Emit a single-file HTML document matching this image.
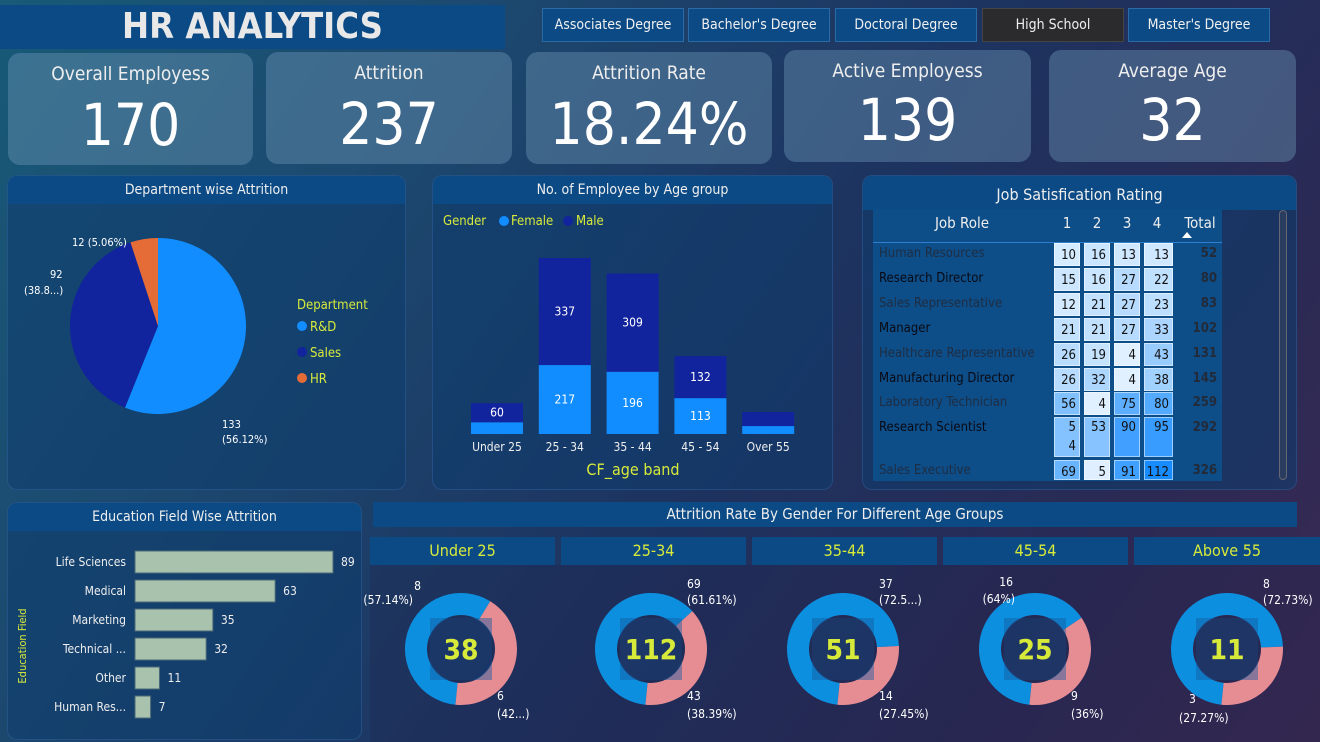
<!DOCTYPE html>
<html><head><meta charset="utf-8">
<style>
*{box-sizing:border-box;margin:0;padding:0}
body{width:1320px;height:742px;overflow:hidden;font-family:"DejaVu Sans Condensed","Liberation Sans",sans-serif;color:#fff;
background:linear-gradient(125deg,#185a78 0%,#1c4a70 25%,#1d3360 55%,#2a2a55 80%,#3b2a52 100%);position:relative}
.abs{position:absolute}
.title{left:0;top:5px;width:505px;height:44px;background:#0b4a85;font:bold 36px "DejaVu Sans Condensed","Liberation Sans",sans-serif;color:#e8e8e8;text-align:center;line-height:44px}
.slicer{top:8px;height:34px;width:142px;background:#0b4a85;border:1px solid #2a6aa5;font-size:14px;text-align:center;line-height:32px;color:#f0f0f0}
.kpi{height:112px;border-radius:12px;background:rgba(110,150,180,0.42);text-align:center}
.kpi .l{font-size:19px;margin-top:10px;color:#eee}
.kpi .v{font-size:58px;margin-top:10px;color:#fff;line-height:60px}
.panel{background:rgba(14,60,110,0.55);border-radius:10px;border:1px solid rgba(60,110,170,0.4);overflow:hidden}
.ph{height:28px;background:#0b4a85;text-align:center;font-size:14px;line-height:28px;color:#eee}
.dh{top:537px;height:28px;width:185px;background:#0b4a85;color:#d7ea3a;text-align:center;font-size:16px;line-height:28px}
svg text{font-family:"DejaVu Sans Condensed","Liberation Sans",sans-serif}
</style></head><body>
<div class="abs title">HR ANALYTICS</div>
<div class="abs slicer" style="left:542px">Associates Degree</div>
<div class="abs slicer" style="left:688px">Bachelor's Degree</div>
<div class="abs slicer" style="left:835px">Doctoral Degree</div>
<div class="abs slicer" style="left:982px;background:#2b2b2e;border-color:#444">High School</div>
<div class="abs slicer" style="left:1128px">Master's Degree</div>

<div class="abs kpi" style="left:8px;top:53px;width:245px"><div class="l">Overall Employess</div><div class="v">170</div></div>
<div class="abs kpi" style="left:266px;top:52px;width:246px"><div class="l">Attrition</div><div class="v">237</div></div>
<div class="abs kpi" style="left:526px;top:52px;width:246px"><div class="l">Attrition Rate</div><div class="v">18.24%</div></div>
<div class="abs kpi" style="left:784px;top:50px;width:247px"><div class="l">Active Employess</div><div class="v" style="margin-top:8px">139</div></div>
<div class="abs kpi" style="left:1049px;top:50px;width:247px"><div class="l">Average Age</div><div class="v" style="margin-top:8px">32</div></div>

<div class="abs panel" style="left:7px;top:175px;width:399px;height:315px"><div class="ph">Department wise Attrition</div></div>
<div class="abs panel" style="left:432px;top:175px;width:401px;height:315px"><div class="ph">No. of Employee by Age group</div></div>
<div class="abs panel" style="left:862px;top:175px;width:435px;height:315px"><div class="ph" style="font-size:16px;height:34px;line-height:38px">Job Satisfication Rating</div></div>
<div class="abs panel" style="left:7px;top:502px;width:355px;height:238px"><div class="ph">Education Field Wise Attrition</div></div>
<div class="abs" style="left:373px;top:502px;width:924px;height:25px;background:#0b4a85;text-align:center;font-size:15px;line-height:25px;color:#eee">Attrition Rate By Gender For Different Age Groups</div>
<div class="abs" style="left:370px;top:565px;width:950px;height:177px;background:rgba(30,30,70,0.25)"></div>
<div class="abs dh" style="left:370px">Under 25</div>
<div class="abs dh" style="left:561px">25-34</div>
<div class="abs dh" style="left:752px">35-44</div>
<div class="abs dh" style="left:943px">45-54</div>
<div class="abs dh" style="left:1134px;width:186px">Above 55</div>

<svg class="abs" style="left:0;top:0" width="1320" height="742" id="chart">
</svg>

<div class="abs" style="left:873px;top:209px;width:349px;height:272px;background:#0d4d88"></div>
<div class="abs" style="left:1279px;top:210px;width:8px;height:270px;border:1px solid #667;border-radius:4px;background:#2a3d5e"></div>
<div id="tbl"></div>

<script>
const NS="http://www.w3.org/2000/svg";
const svg=document.getElementById('chart');
function mk(tag,attrs,parent){const e=document.createElementNS(NS,tag);for(const k in attrs)e.setAttribute(k,attrs[k]);(parent||svg).appendChild(e);return e;}
function txt(x,y,s,o){const t=mk('text',Object.assign({x:x,y:y,fill:'#fff','font-size':12},o||{}));t.textContent=s;return t;}

// ---- Department pie ----
const deptNames=["R&D","Sales","HR"];
const deptValues=[133,92,12];
const deptColors=["#118dff","#12239e","#e66c37"];
(function(){
  const cx=158,cy=326,r=88;const tot=deptValues.reduce((a,b)=>a+b,0);let a=0;
  deptValues.forEach((v,i)=>{
    const a0=a,a1=a+v/tot*2*Math.PI;a=a1;
    const p=(t)=>[cx+r*Math.sin(t),cy-r*Math.cos(t)];
    const [x0,y0]=p(a0),[x1,y1]=p(a1);
    const s=mk('path',{d:`M${cx},${cy}L${x0},${y0}A${r},${r} 0 ${a1-a0>Math.PI?1:0} 1 ${x1},${y1}Z`,fill:deptColors[i]});
    
    
  });
  txt(222,428,"133",{'font-size':11});txt(222,443,"(56.12%)",{'font-size':11});
  txt(50,278,"92",{'font-size':11});txt(24,294,"(38.8...)",{'font-size':11});
  txt(72,246,"12 (5.06%)",{'font-size':11});
  txt(297,309,"Department",{fill:'#d7ea3a','font-size':13});
  deptNames.forEach((n,i)=>{mk('circle',{cx:302,cy:326+i*26,r:5,fill:deptColors[i]});
    const t=txt(310,331+i*26,n,{fill:'#d7ea3a','font-size':13});
    
    });
})();

// ---- Age group stacked bars ----
const ageCats=["Under 25","25 - 34","35 - 44","45 - 54","Over 55"];
const ageFemale=[37,217,196,113,25];
const ageMale=[60,337,309,132,44];
const femaleLabels=["","217","196","113",""];
const maleLabels=["60","337","309","132",""];
(function(){
  const base=434,k=176/554,x0=471,step=67.8,w=52;
  const y=v=>v*k;
  txt(443,225,"Gender",{fill:'#d7ea3a','font-size':13});
  mk('circle',{cx:504,cy:221,r:5,fill:'#118dff'});txt(511,225,"Female",{fill:'#d7ea3a','font-size':13});
  mk('circle',{cx:568,cy:221,r:5,fill:'#12239e'});txt(576,225,"Male",{fill:'#d7ea3a','font-size':13});
  ageCats.forEach((c,i)=>{
    const x=x0+i*step,hf=y(ageFemale[i]),hm=y(ageMale[i]);
    const f=mk('rect',{x:x,y:base-hf,width:w,height:hf,fill:'#118dff'});
    
    const m=mk('rect',{x:x,y:base-hf-hm,width:w,height:hm,fill:'#12239e'});
    
    if(femaleLabels[i])txt(x+w/2,base-hf/2+4,femaleLabels[i],{'text-anchor':'middle'});
    if(maleLabels[i])txt(x+w/2,base-hf-hm/2+4,maleLabels[i],{'text-anchor':'middle'});
    txt(x+w/2,451,c,{'text-anchor':'middle','font-size':12,fill:'#eee'});
  });
  txt(633,475,"CF_age band",{'text-anchor':'middle',fill:'#d7ea3a','font-size':16});
})();

// ---- Education field bars ----
const eduCats=["Life Sciences","Medical","Marketing","Technical ...","Other","Human Res..."];
const eduValues=[89,63,35,32,11,7];
(function(){
  const x0=135,k=198/89,top=551,step=29,h=22;
  txt(26,646,"Education Field",{fill:'#d7ea3a','font-size':11,transform:'rotate(-90 26 646)','text-anchor':'middle'});
  eduCats.forEach((c,i)=>{
    const y=top+i*step,w=eduValues[i]*k;
    const r=mk('rect',{x:x0,y:y,width:w,height:h,fill:'#a9c2ad',stroke:'#4a6a78','stroke-width':1});
    
    txt(126,y+15,c,{'text-anchor':'end',fill:'#eee'});
    txt(x0+w+8,y+15,eduValues[i],{fill:'#eee'});
  });
})();

// ---- Gender donuts ----
const donutGroups=["Under 25","25-34","35-44","45-54","Above 55"];
const donutTotals=[38,112,51,25,11];
const donutBlue=[8,69,37,16,8];
const donutPink=[6,43,14,9,3];
const blueLabels=[["8","(57.14%)"],["69","(61.61%)"],["37","(72.5...)"],["16","(64%)"],["8","(72.73%)"]];
const pinkLabels=[["6","(42...)"],["43","(38.39%)"],["14","(27.45%)"],["9","(36%)"],["3","(27.27%)"]];
(function(){
  const cxs=[461,651,843,1035,1227],cy=649,R=56,r=34;
  donutGroups.forEach((g,i)=>{
    const cx=cxs[i],tot=donutBlue[i]+donutPink[i];
    const pf=donutPink[i]/tot;
    const a1=Math.PI*1.0+0.1, a0=a1-pf*2*Math.PI;
    const P=(t,rr)=>[cx+rr*Math.sin(t),cy-rr*Math.cos(t)];
    const arc=(s,e,col,name)=>{const [x1,y1]=P(s,R),[x2,y2]=P(e,R),[x3,y3]=P(e,r),[x4,y4]=P(s,r);const lg=(e-s)>Math.PI?1:0;
      const p=mk('path',{d:`M${x1},${y1}A${R},${R} 0 ${lg} 1 ${x2},${y2}L${x3},${y3}A${r},${r} 0 ${lg} 0 ${x4},${y4}Z`,fill:col});
      };
    arc(a1,a0+2*Math.PI,'#0d8fe0','donut-male-'+i);
    arc(a0,a1,'#e68d94','donut-female-'+i);
    mk('rect',{x:cx-31,y:cy-31,width:62,height:62,fill:'rgba(20,90,160,0.45)'});
    mk('circle',{cx:cx,cy:cy,r:r-1,fill:'rgba(30,45,90,0.55)'});
    txt(cx,cy+10,donutTotals[i],{'text-anchor':'middle',fill:'#d7ea3a','font-size':28,'font-weight':'bold'});
    const bl=blueLabels[i],pl=pinkLabels[i];
    if(i===0){txt(cx-40,590,bl[0],{'text-anchor':'end'});txt(cx-48,604,bl[1],{'text-anchor':'end'});}
    else if(i===3){txt(cx-22,586,bl[0],{'text-anchor':'end'});txt(cx-20,603,bl[1],{'text-anchor':'end'});}
    else{txt(cx+36,588,bl[0]);txt(cx+36,604,bl[1]);}
    if(i===4){txt(cx-38,703,pl[0]);txt(cx-48,722,pl[1]);}
    else{txt(cx+36,700,pl[0]);txt(cx+36,718,pl[1]);}
  });
})();

// ---- Job satisfaction table ----
const jobRoles=["Human Resources","Research Director","Sales Representative","Manager","Healthcare Representative","Manufacturing Director","Laboratory Technician","Research Scientist","Sales Executive"];
const jobR1=[10,15,12,21,26,26,56,54,69];
const jobR2=[16,16,21,21,19,32,4,53,5];
const jobR3=[13,27,27,27,4,4,75,90,91];
const jobR4=[13,22,23,33,43,38,80,95,112];
const jobTotals=[52,80,83,102,131,145,259,292,326];
(function(){
  const T=document.getElementById('tbl');
  const add=(html,css,name,inter)=>{const d=document.createElement('div');d.className='abs';d.style.cssText=css;d.innerHTML=html;
    T.appendChild(d);return d;};
  add("Job Role","left:873px;top:214px;width:178px;text-align:center;font-size:15px;color:#eee","header-job-role","false");
  ["1","2","3","4"].forEach((h,j)=>add(h,`left:${1054+j*30}px;top:214px;width:26px;text-align:center;font-size:15px;color:#eee`,"header-rating-"+h,"false"));
  add("Total","left:1180px;top:214px;width:40px;text-align:center;font-size:15px;color:#eee","header-total","true");
  add("","left:1182px;top:232px;width:0;height:0;border-left:5px solid transparent;border-right:5px solid transparent;border-bottom:6px solid #fff","sort-arrow","true");
  add("","left:873px;top:242px;width:349px;height:1px;background:#2f7ed0","header-divider","false");
  const tops=[243,268,293,318,343,368,392,417,460];
  const hs=[23,23,23,23,23,23,23,40,20];
  const col=v=>{const t=Math.min(v/112,1);const a=[232,244,255],b=[24,140,255];return `rgb(${a.map((c,i)=>Math.round(c+(b[i]-c)*t)).join(',')})`;};
  jobRoles.forEach((r,i)=>{
    const dark=i%2===0;
    add(r,`left:879px;top:${tops[i]+3}px;font-size:13px;color:${dark?'#1f2d42':'#0a0a14'};white-space:nowrap`,"row-label-"+i,"false");
    [jobR1,jobR2,jobR3,jobR4].forEach((arr,j)=>{
      const v=arr[i];
      add(i===7&&j===0?"5<br>4":String(v),`left:${1054+j*30}px;top:${tops[i]}px;width:${j===3?29:26}px;height:${hs[i]}px;background:${col(v)};color:#111;font-size:13px;text-align:right;padding-right:3px;line-height:${i===7?19:23}px;border:1px solid rgba(255,255,255,0.5)`,`cell-${i}-${j+1}`,"false");
    });
    add(String(jobTotals[i]),`left:1180px;top:${tops[i]+3}px;width:37px;text-align:right;font-size:13px;color:#232a38;font-weight:bold`,"row-total-"+i,"false");
  });
})();
</script>
</body></html>
